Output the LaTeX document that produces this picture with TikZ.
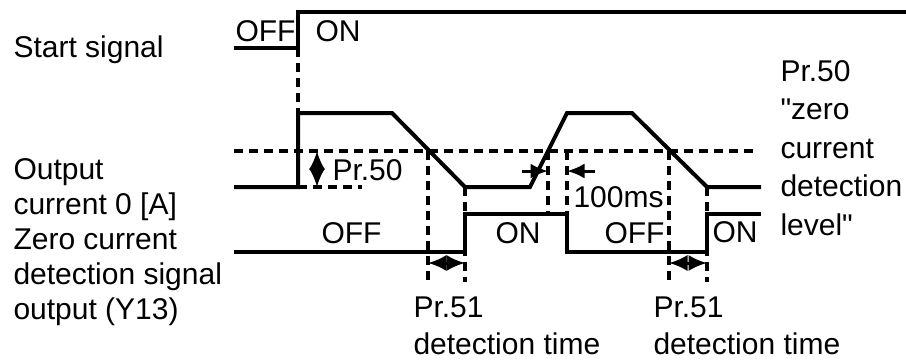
\documentclass[tikz,border=0pt]{standalone}
\usepackage{fontspec}
\setmainfont{Liberation Sans}[Ligatures=TeXOff]
\usetikzlibrary{arrows.meta}
\tikzset{
  wave/.style  = {line width=1.6pt, line join=miter},
  level/.style = {line width=1.4pt, dash pattern=on 3.6pt off 2.4pt},
  guide/.style = {line width=1.6pt, dash pattern=on 3.6pt off 2.4pt},
  lbl/.style   = {anchor=base west, inner sep=0pt, align=left, font=\fontsize{12}{14}\selectfont},
  span/.style  = {line width=1.2pt, {Latex[length=7.4pt,width=6.5pt]}-{Latex[length=7.4pt,width=6.5pt]}},
  gap/.style   = {line width=1.2pt, -{Latex[length=7pt,width=6pt]}},
}

\begin{document}
\begin{tikzpicture}[x=0.4pt,y=-0.4pt]
  \useasboundingbox (0,0) rectangle (906,361);

  % start signal
  \coordinate (s0) at (234,48);  \coordinate (s1) at (298,48);
  \coordinate (s2) at (298,12);  \coordinate (s3) at (906,12);
  % output current
  \coordinate (c0) at (234,187); \coordinate (c1) at (298,187);
  \coordinate (c2) at (298,113); \coordinate (c3) at (392,113);
  \coordinate (c4) at (465,187); \coordinate (c5) at (530,187);
  \coordinate (c6) at (567,113); \coordinate (c7) at (632,113);
  \coordinate (c8) at (707,187); \coordinate (c9) at (761,187);
  % zero current detection signal
  \coordinate (z0) at (234,252); \coordinate (z1) at (465,252);
  \coordinate (z2) at (465,214); \coordinate (z3) at (567,214);
  \coordinate (z4) at (567,252); \coordinate (z5) at (707,252);
  \coordinate (z6) at (707,214); \coordinate (z7) at (761,214);
  % zero current level
  \coordinate (lv0) at (234,151); \coordinate (lv1) at (758,151);

  \draw[level] (lv0) -- (lv1);
  \draw[level] (c1) -- (362,187);
  \draw[guide] (s1) -- (c2);
  \draw[guide] (428,151) -- (428,282);
  \draw[guide] (c4) -- (465,282);
  \draw[guide] (548,151) -- (548,214);
  \draw[guide] (567,151) -- (z3);
  \draw[guide] (669,151) -- (669,282);
  \draw[guide] (c8) -- (707,282);

  \draw[wave] (s0) -- (s1) -- (s2) -- (s3);
  \draw[wave] (c0) -- (c1) -- (c2) -- (c3) -- (c4) -- (c5) -- (c6) -- (c7) -- (c8) -- (c9);
  \draw[wave] (z0) -- (z1) -- (z2) -- (z3) -- (z4) -- (z5) -- (z6) -- (z7);

  \draw[span] (317,151) -- (317,187);
  \draw[span] (428,263) -- (465,263);
  \draw[span] (669,263) -- (707,263);
  \draw[gap] (522,171) -- (548,171);
  \draw[gap] (595,171) -- (567,171);

  % multi-line nodes sit on the baseline of their last line
  \node[lbl] (start) at (13,57) {Start signal};
  \node[lbl] (sigs)  at (13,319) {Output\\current 0 [A]\\Zero current\\detection signal\\output (Y13)};
  \node[lbl] (soff)  at (235,41) {OFF};
  \node[lbl] (son)   at (315,41) {ON};
  \node[lbl] (pr50)  at (332,180) {Pr.50};
  \node[lbl] (zoff1) at (321,243) {OFF};
  \node[lbl] (zon1)  at (495,243) {ON};
  \node[lbl] (delay) at (573,207) {100ms};
  \node[lbl] (zoff2) at (604,243) {OFF};
  \node[lbl] (zon2)  at (712,242) {ON};
  \node[lbl, font=\fontsize{12}{15.4}\selectfont] (lvtxt) at (780,235) {Pr.50\\"zero\\current\\detection\\level"};
  \node[lbl, font=\fontsize{12}{14.6}\selectfont] (pr51a) at (413,354) {Pr.51\\detection time};
  \node[lbl, font=\fontsize{12}{14.6}\selectfont] (pr51b) at (653,354) {Pr.51\\detection time};
\end{tikzpicture}
\end{document}
